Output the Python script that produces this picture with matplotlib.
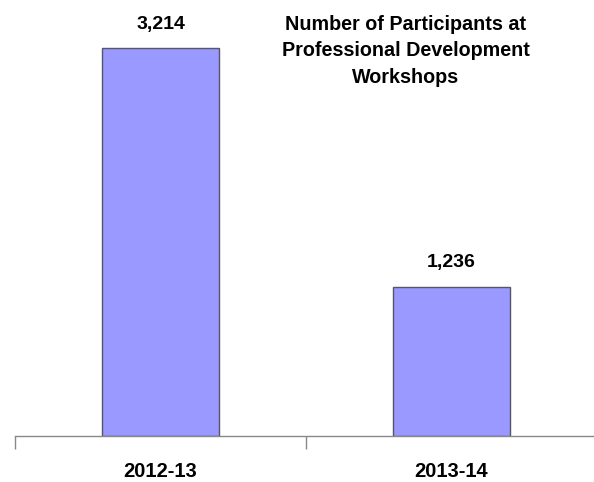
import matplotlib.pyplot as plt
from matplotlib.ticker import FixedLocator

# Workshop participation by school year
years = ["2012-13", "2013-14"]
participants = [3214, 1236]

plt.rcParams["font.family"] = ["Liberation Sans Narrow", "Liberation Sans", "DejaVu Sans"]

fig = plt.figure(figsize=(5.94, 4.82), dpi=100)
ax = fig.add_axes([15 / 594, 46 / 482, 582 / 594, 436 / 482])

x = list(range(len(years)))
bars = ax.bar(x, participants, width=0.40, color="#9999FF",
              edgecolor="#555566", linewidth=1.0)

ax.set_xlim(-0.5, 1.5)
ax.set_ylim(0, 3612)

for rect, v in zip(bars, participants):
    ax.annotate(f"{v:,}", (rect.get_x() + rect.get_width() / 2, v),
                xytext=(0, 14), textcoords="offset points",
                ha="center", va="baseline", fontsize=14, fontweight="bold")

# only the bottom axis line with category separators
for side in ["left", "right", "top"]:
    ax.spines[side].set_visible(False)
ax.spines["bottom"].set_color("#888888")
ax.spines["bottom"].set_linewidth(1.0)
ax.set_yticks([])
ax.set_xticks(x)
ax.set_xticklabels(years, fontsize=14.5, fontweight="bold")
ax.tick_params(axis="x", which="major", length=0, pad=19)
ax.xaxis.set_minor_locator(FixedLocator([-0.5, 0.5, 1.5]))
ax.tick_params(axis="x", which="minor", length=9, color="#888888", width=1.0)

fig.text(406 / 594, 1 - 15 / 482,
         "Number of Participants at\nProfessional Development\nWorkshops",
         ha="center", va="top", fontsize=14.2, fontweight="bold",
         linespacing=1.5)

fig.savefig("out.png", dpi=100)
